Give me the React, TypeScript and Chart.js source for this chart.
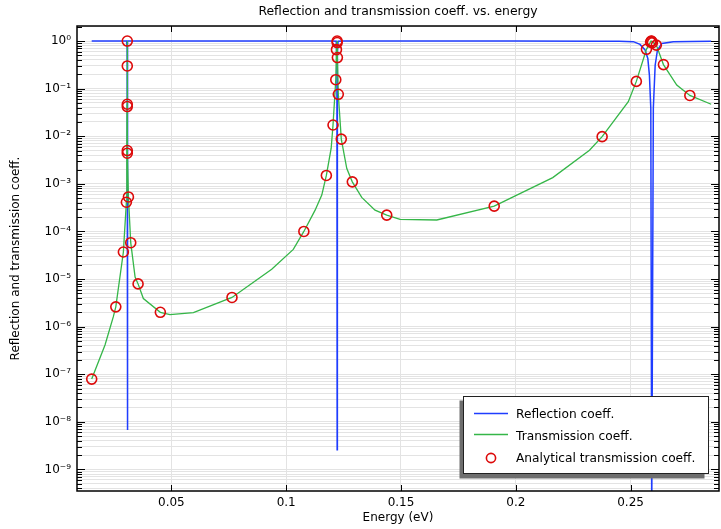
import React, { useEffect, useRef } from 'react';
import { Chart, registerables } from 'chart.js';

Chart.register(...registerables);

// ---------- data ----------
const reflectionEnergy = [
  0.0153, 0.025, 0.03, 0.0305, 0.03075, 0.0308, 0.03085, 0.0311, 0.032, 0.05,
  0.1, 0.12, 0.1218, 0.1221, 0.1222, 0.1223, 0.1226, 0.125, 0.16, 0.2,
  0.2367, 0.245, 0.2512, 0.2541, 0.2563, 0.2575, 0.2582, 0.2588, 0.2592, 0.2599,
  0.2607, 0.2617, 0.2636, 0.2686, 0.276, 0.2851,
];
const reflectionValues = [
  1, 1, 1, 0.999, 0.7, 6.7e-9, 0.95, 0.9995, 1, 1,
  1, 1, 0.99, 0.34, 2.6e-9, 0.55, 0.99, 1, 1, 1,
  0.995, 0.985, 0.97, 0.85, 0.65, 0.43, 0.19, 0.039, 1e-10, 0.039,
  0.31, 0.65, 0.89, 0.97, 0.98, 0.99,
];

const transmissionEnergy = [
  0.0153, 0.0211, 0.0247, 0.0258, 0.0291, 0.0304, 0.0306, 0.0307, 0.03075, 0.0308,
  0.03085, 0.0309, 0.0313, 0.0323, 0.0342, 0.0355, 0.0378, 0.0452, 0.0494, 0.0596,
  0.0764, 0.0937, 0.1031, 0.1077, 0.1126, 0.1155, 0.1175, 0.1196, 0.1204, 0.1216,
  0.1219, 0.1222, 0.1223, 0.1227, 0.124, 0.1264, 0.1288, 0.1329, 0.1387, 0.1438,
  0.1496, 0.1656, 0.1906, 0.2161, 0.2321, 0.2376, 0.249, 0.2525, 0.2569, 0.2589,
  0.2595, 0.2612, 0.2643, 0.2701, 0.2758, 0.2851,
];
const transmissionValues = [
  7.9e-8, 4.1e-7, 1.6e-6, 2.6e-6, 3.7e-5, 4.1e-4, 5.0e-3, 0.047, 0.3, 1.0,
  0.042, 4.4e-3, 5.3e-4, 5.8e-5, 1.1e-5, 7.9e-6, 3.9e-6, 2.0e-6, 1.78e-6, 1.96e-6,
  4.1e-6, 1.6e-5, 4.2e-5, 1.0e-4, 2.8e-4, 5.8e-4, 1.5e-3, 5.6e-3, 0.0172, 0.154,
  0.66, 1.0, 0.45, 0.076, 8.7e-3, 2.1e-3, 1.1e-3, 5.2e-4, 2.8e-4, 2.2e-4,
  1.8e-4, 1.74e-4, 3.4e-4, 1.35e-3, 5.1e-3, 9.8e-3, 0.053, 0.142, 0.67, 1.0,
  0.97, 0.82, 0.32, 0.119, 0.072, 0.047,
];

const analyticalEnergy = [
  0.0153, 0.0258, 0.0291, 0.0304, 0.0313, 0.0308, 0.0308, 0.0308, 0.0308, 0.0308,
  0.0308, 0.0323, 0.0355, 0.0452, 0.0764, 0.1077, 0.1175, 0.1204, 0.1216, 0.1219,
  0.1222, 0.1222, 0.1223, 0.1227, 0.124, 0.1288, 0.1438, 0.1906, 0.2376, 0.2525,
  0.2569, 0.2587, 0.259, 0.2592, 0.2595, 0.2612, 0.2643, 0.2758,
];
const analyticalValues = [
  7.9e-8, 2.6e-6, 3.7e-5, 4.1e-4, 5.3e-4, 4.4e-3, 5.0e-3, 0.042, 0.047, 0.3,
  1.0, 5.8e-5, 7.9e-6, 2.0e-6, 4.1e-6, 1.0e-4, 1.5e-3, 0.0172, 0.154, 0.66,
  1.0, 0.93, 0.45, 0.076, 8.7e-3, 1.1e-3, 2.2e-4, 3.4e-4, 9.8e-3, 0.142,
  0.67, 0.95, 1.0, 0.99, 0.92, 0.82, 0.32, 0.072,
];

const xTickValues = [0.05, 0.1, 0.15, 0.2, 0.25];
const xTickLabels = ['0.05', '0.1', '0.15', '0.2', '0.25'];
const yTickValues = [1e-9, 1e-8, 1e-7, 1e-6, 1e-5, 1e-4, 1e-3, 1e-2, 1e-1, 1];
const yTickLabels = ['10⁻⁹', '10⁻⁸', '10⁻⁷', '10⁻⁶', '10⁻⁵', '10⁻⁴', '10⁻³', '10⁻²', '10⁻¹', '10⁰'];
const xMin = 0.0089;
const xMax = 0.2885;
const yMin = 3.52e-10;
const yMax = 2.07;

const titleText = 'Reflection and transmission coeff. vs. energy';
const xTitle = 'Energy (eV)';
const yTitle = 'Reflection and transmission coeff.';
const legendLabels = ['Reflection coeff.', 'Transmission coeff.', 'Analytical transmission coeff.'];

const FONT = 'DejaVu Sans';
const BLUE = '#1f3dff';
const GREEN = '#35b648';
const RED = '#dd0a0a';

function isPow10(v: number) {
  const l = Math.log10(v);
  return Math.abs(l - Math.round(l)) < 1e-9;
}

function minorLogValues(): number[] {
  const out: number[] = [];
  for (let e = -10; e <= 0; e++) {
    for (let m = 1; m <= 9; m++) {
      const v = Number((m * Math.pow(10, e)).toPrecision(12));
      if (v >= yMin && v <= yMax) out.push(v);
    }
  }
  return out;
}

export default function App() {
  const ref = useRef<HTMLCanvasElement>(null);

  useEffect(() => {
    const canvas = ref.current;
    if (!canvas) return;

    const decor = {
      id: 'decor',
      afterDraw(chart: any) {
        const { ctx, chartArea: a, scales } = chart;
        const xs = scales.x;
        const ys = scales.y;
        ctx.save();
        // inward tick marks
        ctx.strokeStyle = '#000';
        ctx.lineWidth = 1;
        ctx.beginPath();
        ys.ticks.forEach((t: any) => {
          const py = Math.round(ys.getPixelForValue(t.value)) + 0.5;
          if (py < a.top || py > a.bottom) return;
          const len = isPow10(t.value) ? 8 : 5;
          ctx.moveTo(a.left, py);
          ctx.lineTo(a.left + len, py);
          ctx.moveTo(a.right, py);
          ctx.lineTo(a.right - len, py);
        });
        xs.ticks.forEach((t: any) => {
          const px = Math.round(xs.getPixelForValue(t.value)) + 0.5;
          ctx.moveTo(px, a.bottom);
          ctx.lineTo(px, a.bottom - 6);
          ctx.moveTo(px, a.top);
          ctx.lineTo(px, a.top + 6);
        });
        ctx.stroke();
        // frame
        ctx.lineWidth = 1.5;
        ctx.strokeRect(a.left, a.top, a.right - a.left, a.bottom - a.top);

        // title
        ctx.fillStyle = '#000';
        ctx.font = `12.4px "${FONT}"`;
        ctx.textAlign = 'center';
        ctx.textBaseline = 'middle';
        ctx.fillText(titleText, (a.left + a.right) / 2, 12);

        // legend
        const lx = 463.5, ly = 396.5, lw = 245, lh = 77;
        ctx.fillStyle = '#6e6e6e';
        ctx.fillRect(lx - 4, ly + 4, lw, lh + 1);
        ctx.fillStyle = '#fff';
        ctx.fillRect(lx, ly, lw, lh);
        ctx.strokeStyle = '#222';
        ctx.lineWidth = 1;
        ctx.strokeRect(lx, ly, lw, lh);

        ctx.lineWidth = 1.5;
        ctx.strokeStyle = BLUE;
        ctx.beginPath();
        ctx.moveTo(474, 413.5);
        ctx.lineTo(508, 413.5);
        ctx.stroke();
        ctx.strokeStyle = GREEN;
        ctx.beginPath();
        ctx.moveTo(474, 434.5);
        ctx.lineTo(508, 434.5);
        ctx.stroke();
        ctx.strokeStyle = RED;
        ctx.lineWidth = 1.6;
        ctx.beginPath();
        ctx.arc(491, 458, 4.6, 0, Math.PI * 2);
        ctx.stroke();

        ctx.fillStyle = '#000';
        ctx.font = `12.2px "${FONT}"`;
        ctx.textAlign = 'left';
        ctx.textBaseline = 'alphabetic';
        ctx.fillText(legendLabels[0], 516, 418);
        ctx.fillText(legendLabels[1], 516, 439.5);
        ctx.fillText(legendLabels[2], 516, 462);
        ctx.restore();
      },
    };

    const chart = new Chart(canvas, {
      type: 'line',
      data: {
        datasets: [
          {
            label: legendLabels[2],
            data: analyticalEnergy.map((x, i) => ({ x, y: analyticalValues[i] })),
            showLine: false,
            pointRadius: 5,
            pointStyle: 'circle',
            pointBorderColor: RED,
            pointBackgroundColor: 'rgba(0,0,0,0)',
            pointBorderWidth: 1.6,
            borderColor: RED,
          },
          {
            label: legendLabels[1],
            data: transmissionEnergy.map((x, i) => ({ x, y: transmissionValues[i] })),
            borderColor: GREEN,
            borderWidth: 1.3,
            pointRadius: 0,
            tension: 0,
            fill: false,
          },
          {
            label: legendLabels[0],
            data: reflectionEnergy.map((x, i) => ({ x, y: reflectionValues[i] })),
            borderColor: BLUE,
            borderWidth: 1.5,
            pointRadius: 0,
            tension: 0,
            fill: false,
          },
        ],
      },
      options: {
        animation: false,
        responsive: false,
        events: [],
        layout: { autoPadding: false, padding: { top: 26, right: 2, left: 0, bottom: 0 } },
        plugins: {
          legend: { display: false },
          title: { display: false },
          tooltip: { enabled: false },
        },
        scales: {
          x: {
            type: 'linear',
            min: xMin,
            max: xMax,
            afterFit: (s: any) => {
              s.height = 38;
              s.paddingLeft = 0;
              s.paddingRight = 0;
            },
            afterBuildTicks: (s: any) => {
              s.ticks = xTickValues.map((v) => ({ value: v }));
            },
            grid: { color: '#e3e3e3', lineWidth: 1, drawTicks: false },
            border: { display: false },
            ticks: {
              autoSkip: false,
              maxRotation: 0,
              padding: 5,
              color: '#000',
              font: { family: FONT, size: 12 },
              callback: (value: any) => {
                const i = xTickValues.findIndex((v) => Math.abs(v - Number(value)) < 1e-9);
                return i >= 0 ? xTickLabels[i] : '';
              },
            },
            title: {
              display: true,
              text: xTitle,
              color: '#000',
              font: { family: FONT, size: 12 },
              padding: { top: 0, bottom: 4 },
            },
          },
          y: {
            type: 'logarithmic',
            min: yMin,
            max: yMax,
            afterFit: (s: any) => {
              s.width = 77;
              s.paddingTop = 0;
              s.paddingBottom = 0;
            },
            afterBuildTicks: (s: any) => {
              s.ticks = minorLogValues().map((v) => ({ value: v, major: isPow10(v) }));
            },
            grid: { color: '#e3e3e3', lineWidth: 1, drawTicks: false },
            border: { display: false },
            ticks: {
              autoSkip: false,
              padding: 6,
              color: '#000',
              font: { family: FONT, size: 12 },
              callback: (value: any) => {
                const i = yTickValues.findIndex((v) => Math.abs(v - Number(value)) / v < 1e-6);
                return i >= 0 ? yTickLabels[i] : '';
              },
            },
            title: {
              display: true,
              text: yTitle,
              color: '#000',
              font: { family: FONT, size: 12 },
              padding: { top: 9, bottom: 0 },
            },
          },
        },
      },
      plugins: [decor],
    } as any);

    return () => chart.destroy();
  }, []);

  return (
    <div style={{ position: 'fixed', left: 0, top: 0, width: 721, height: 529, background: '#fff' }}>
      <canvas ref={ref} width={721} height={529} style={{ display: 'block' }} />
    </div>
  );
}
